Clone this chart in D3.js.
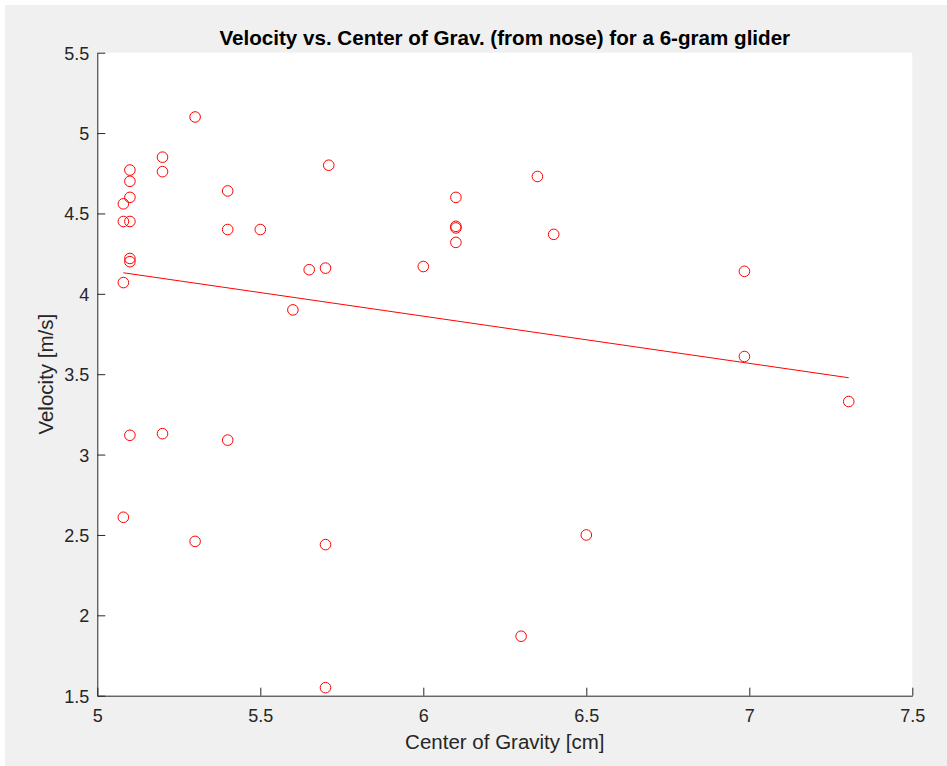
<!DOCTYPE html>
<html><head><meta charset="utf-8">
<script src="https://cdn.jsdelivr.net/npm/d3@7/dist/d3.min.js"></script>
<style>html,body{margin:0;padding:0;background:#fff;}</style>
</head><body>
<script>
// Data
const cgX = [5.08,5.08,5.08,5.08,5.1,5.1,5.1,5.1,5.1,5.1,5.1,5.2,5.2,5.2,5.3,5.3,5.4,5.4,5.4,5.5,5.6,5.65,5.7,5.71,5.7,5.7,6.0,6.1,6.1,6.1,6.1,6.35,6.4,6.3,6.5,6.985,6.985,7.305];
const velocity = [4.56,4.45,4.07,2.61,4.77,4.70,4.60,4.45,4.22,4.20,3.12,4.85,4.76,3.13,5.10,2.46,4.64,4.40,3.09,4.40,3.90,4.15,4.16,4.80,2.44,1.55,4.17,4.60,4.42,4.41,4.32,4.73,4.37,1.87,2.50,4.14,3.61,3.33];
const fitX = [5.08, 7.305];
const fitY = [4.131, 3.478];
const xTicks = [5, 5.5, 6, 6.5, 7, 7.5];
const yTicks = [1.5, 2, 2.5, 3, 3.5, 4, 4.5, 5, 5.5];
const titleText = "Velocity vs. Center of Grav. (from nose) for a 6-gram glider";
const xLabel = "Center of Gravity [cm]";
const yLabel = "Velocity [m/s]";

const W = 947, H = 766;
const m = {left: 97.3, right: 912.3, top: 52.7, bottom: 695.7};
const font = "'Liberation Sans', Arial, Helvetica, sans-serif";
const axisColor = "#262626";

const svg = d3.select("body").append("svg").attr("width", W).attr("height", H);
svg.append("rect").attr("x", 5).attr("y", 5).attr("width", W - 5).attr("height", H - 5).attr("fill", "#f0f0f0");
svg.append("rect").attr("x", m.left).attr("y", m.top).attr("width", m.right - m.left).attr("height", m.bottom - m.top).attr("fill", "#fff");

const x = d3.scaleLinear().domain([5, 7.5]).range([m.left, m.right]);
const y = d3.scaleLinear().domain([1.5, 5.5]).range([m.bottom, m.top]);

const xAxis = svg.append("g").attr("transform", `translate(0,${m.bottom})`)
  .call(d3.axisBottom(x).tickValues(xTicks).tickFormat(d3.format("")).tickSizeInner(-8).tickSizeOuter(0).tickPadding(13.5));
const yAxis = svg.append("g").attr("transform", `translate(${m.left},0)`)
  .call(d3.axisLeft(y).tickValues(yTicks).tickFormat(d3.format("")).tickSizeInner(-8).tickSizeOuter(0).tickPadding(8));
[xAxis, yAxis].forEach(g => {
  g.select(".domain").attr("stroke", axisColor).attr("stroke-width", 1);
  g.selectAll(".tick line").attr("stroke", axisColor).attr("stroke-width", 1);
  g.selectAll(".tick text").attr("fill", axisColor).style("font-family", font).style("font-size", "18px");
});
yAxis.selectAll(".tick text").attr("dy", "0.36em");

// Fit line
svg.append("path")
  .datum(fitX.map((v, i) => [v, fitY[i]]))
  .attr("d", d3.line().x(d => x(d[0])).y(d => y(d[1])))
  .attr("fill", "none").attr("stroke", "#ff0000").attr("stroke-width", 1);

// Points
svg.append("g").selectAll("circle")
  .data(cgX.map((v, i) => [v, velocity[i]]))
  .join("circle")
  .attr("cx", d => x(d[0])).attr("cy", d => y(d[1])).attr("r", 5.3)
  .attr("fill", "none").attr("stroke", "#ff0000").attr("stroke-width", 1);

// Title
svg.append("text").attr("x", (m.left + m.right) / 2).attr("y", 45)
  .attr("text-anchor", "middle").style("font-family", font).style("font-weight", "bold")
  .style("font-size", "20.6px").attr("fill", "#000").text(titleText);

svg.append("text").attr("x", (m.left + m.right) / 2).attr("y", 748.5)
  .attr("text-anchor", "middle").style("font-family", font).style("font-size", "20.5px")
  .attr("fill", axisColor).text(xLabel);

svg.append("text").attr("transform", `translate(52.5,${(m.top + m.bottom) / 2}) rotate(-90)`)
  .attr("text-anchor", "middle").style("font-family", font).style("font-size", "20.5px")
  .attr("fill", axisColor).text(yLabel);
</script>
</body></html>
